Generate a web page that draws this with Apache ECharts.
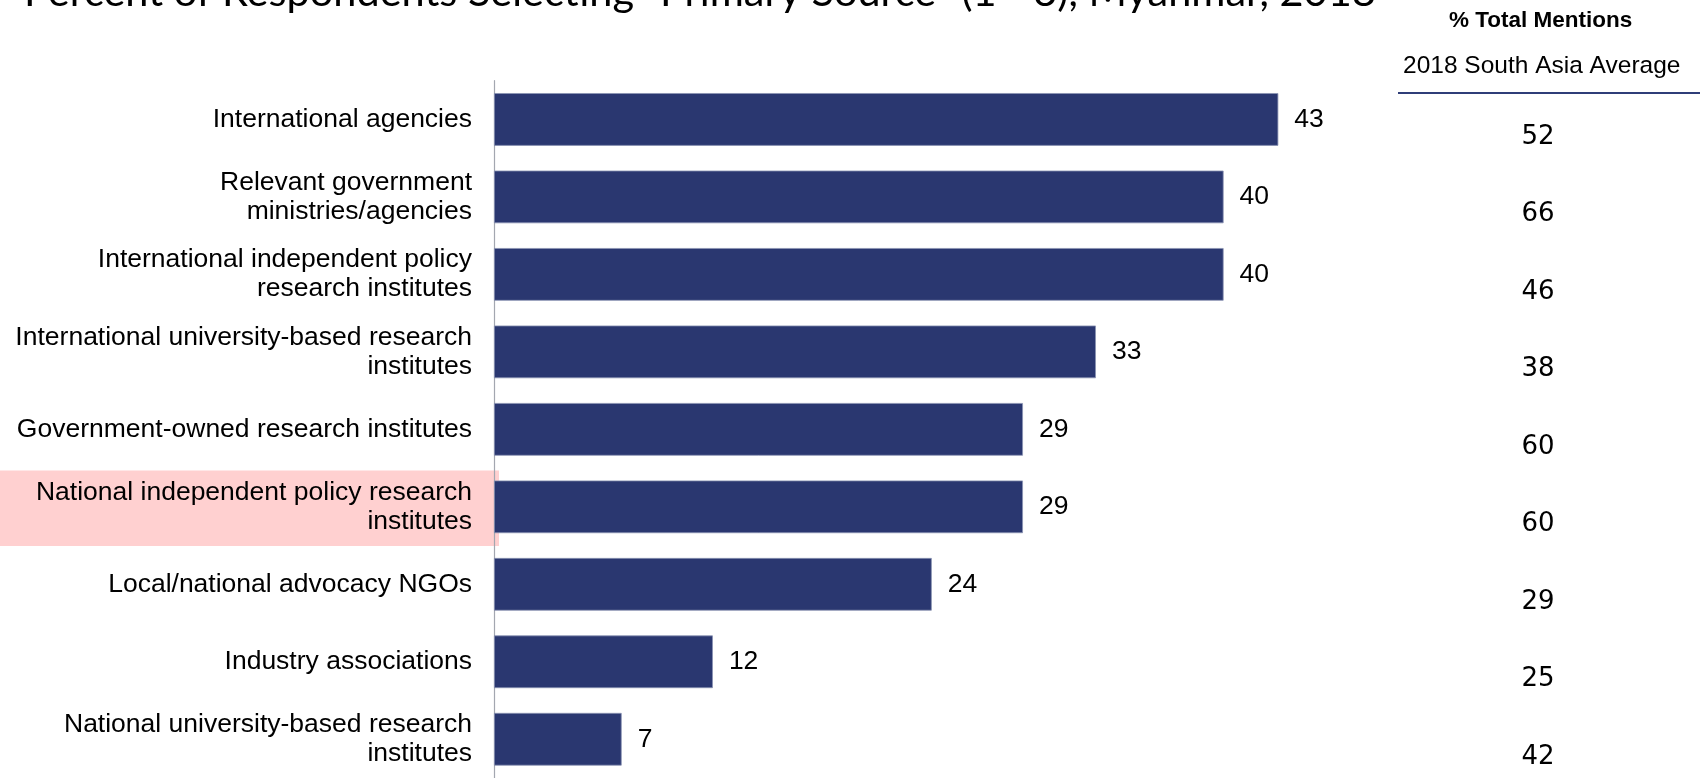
<!DOCTYPE html>
<html>
<head>
<meta charset="utf-8">
<script src="https://cdn.jsdelivr.net/npm/echarts@6/dist/echarts.min.js"></script>
<style>
  html, body { margin: 0; padding: 0; background: #fff; }
  #chart { width: 1700px; height: 778px; }
</style>
</head>
<body>
<div id="chart"></div>
<script>
// categories, top to bottom
const categories = [
  'International agencies',
  'Relevant government\nministries/agencies',
  'International independent policy\nresearch institutes',
  'International university-based research\ninstitutes',
  'Government-owned research institutes',
  'National independent policy research\ninstitutes',
  'Local/national advocacy NGOs',
  'Industry associations',
  'National university-based research\ninstitutes'
];
const myanmarValues = [43, 40, 40, 33, 29, 29, 24, 12, 7];
const southAsiaAvg = [52, 66, 46, 38, 60, 60, 29, 25, 42];
const highlightCategory = 'National independent policy research\ninstitutes';

const titleText = 'Percent of Respondents Selecting "Primary Source" (1 - 3), Myanmar, 2018';
const headerTitle = '% Total Mentions';
const headerSub = '2018 South Asia Average';

const font = '"Liberation Sans", Arial, sans-serif';
const barColor = '#2A3770';

const chart = echarts.init(document.getElementById('chart'));

const option = {
  animation: false,
  title: {
    text: titleText,
    left: 19,
    top: -33,
    textStyle: { fontFamily: 'Lato, "Open Sans", sans-serif', fontSize: 41.5, fontWeight: 'normal', color: '#000' }
  },
  graphic: [
    {
      type: 'text', left: 1449, top: 9,
      style: { text: headerTitle, font: 'bold 22.5px ' + font, fill: '#000' }
    },
    {
      type: 'text', left: 1403, top: 54,
      style: { text: headerSub, font: '24.5px ' + font, fill: '#000' }
    },
    {
      type: 'line',
      shape: { x1: 1398, y1: 93, x2: 1700, y2: 93 },
      style: { stroke: '#2F3D78', lineWidth: 2 }
    }
  ],
  grid: [
    { left: 494, right: 294, top: 80.7, bottom: -2 },
    { left: 0, width: 499, top: 84.5, bottom: -6 }
  ],
  xAxis: [
    { type: 'value', gridIndex: 0, min: 0, max: 50, show: false },
    { type: 'value', gridIndex: 1, min: 0, max: 1, show: false }
  ],
  yAxis: [
    {
      type: 'category',
      gridIndex: 0,
      inverse: true,
      data: categories,
      axisLine: { lineStyle: { color: '#A3A7B0', width: 1.2 } },
      axisTick: { length: 7, lineStyle: { color: '#A3A7B0', width: 1.2 } },
      axisLabel: {
        margin: 22,
        fontFamily: font,
        fontSize: 26.5,
        lineHeight: 29,
        color: '#000'
      }
    },
    {
      type: 'category',
      gridIndex: 0,
      position: 'right',
      inverse: true,
      data: categories,
      axisLine: { show: false },
      axisTick: { show: false },
      axisLabel: {
        margin: 132,
        align: 'center',
        verticalAlign: 'top',
        fontFamily: '"DejaVu Sans", Verdana, sans-serif',
        fontSize: 26,
        lineHeight: 35,
        color: '#000',
        formatter: (v, i) => String(southAsiaAvg[i])
      }
    },
    {
      type: 'category',
      gridIndex: 1,
      inverse: true,
      data: categories,
      show: false
    }
  ],
  series: [
    {
      name: 'highlight',
      type: 'bar',
      xAxisIndex: 1,
      yAxisIndex: 2,
      z: -1,
      silent: true,
      barWidth: '98%',
      itemStyle: { color: '#FFD0D0' },
      data: categories.map(c => (c === highlightCategory ? 1 : '-'))
    },
    {
      name: 'Myanmar',
      type: 'bar',
      xAxisIndex: 0,
      yAxisIndex: 0,
      barWidth: '68%',
      itemStyle: { color: barColor, borderColor: '#8A93B3', borderWidth: 0.8 },
      label: {
        show: true,
        position: 'right',
        distance: 16,
        fontFamily: font,
        fontSize: 26.5,
        color: '#000'
      },
      data: myanmarValues
    }
  ]
};

chart.setOption(option);
</script>
</body>
</html>
